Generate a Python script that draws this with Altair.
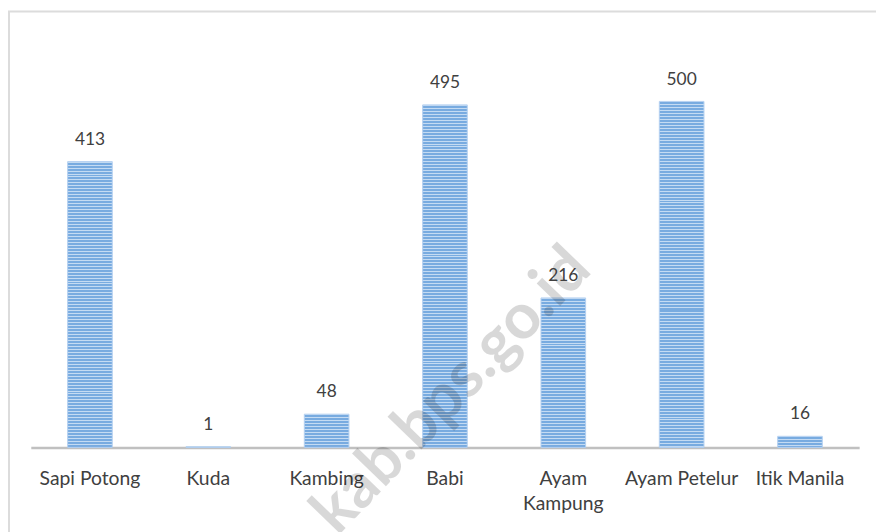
import altair as alt
import pandas as pd

categories = ["Sapi Potong", "Kuda", "Kambing", "Babi", "Ayam Kampung", "Ayam Petelur", "Itik Manila"]
values = [413, 1, 48, 495, 216, 500, 16]
watermark = "kab.bps.go.id"

df = pd.DataFrame({"animal": categories, "value": values})

W, H = 836, 419
YMAX = 600
FONT = "Lato"
TXT = "#404040"
DARK, LIGHT = "#78abe0", "#c4dbf3"
PERIOD, LIGHT_PX = 3.0, 1.0


def stripes(v):
    h = max(v * H / YMAX, 0.5)
    stops = []
    y = 0.0
    while y < h:
        a = y / h
        m = min((y + LIGHT_PX) / h, 1.0)
        b = min((y + PERIOD) / h, 1.0)
        stops += [
            {"offset": a, "color": LIGHT},
            {"offset": m, "color": LIGHT},
            {"offset": m, "color": DARK},
            {"offset": b, "color": DARK},
        ]
        y += PERIOD
    return {"gradient": "linear", "x1": 0, "y1": 0, "x2": 0, "y2": 1, "stops": stops}


fill = alt.when(alt.datum.animal == categories[0]).then(alt.value(stripes(values[0])))
for c, v in zip(categories[1:-1], values[1:-1]):
    fill = fill.when(alt.datum.animal == c).then(alt.value(stripes(v)))
fill = fill.otherwise(alt.value(stripes(values[-1])))

x_enc = alt.X(
    "animal:N",
    sort=categories,
    scale=alt.Scale(paddingInner=0, paddingOuter=0),
    axis=alt.Axis(
        title=None,
        labelAngle=0,
        ticks=False,
        grid=False,
        domainColor="#c0c0c0",
        domainWidth=2.5,
        labelFont=FONT,
        labelFontSize=19.5,
        labelColor=TXT,
        labelPadding=22,
        labelLineHeight=26,
        labelExpr="datum.value == 'Ayam Kampung' ? ['Ayam', 'Kampung'] : datum.label",
    ),
)
y_enc = alt.Y("value:Q", scale=alt.Scale(domain=[0, YMAX], nice=False), axis=None)

frame = alt.Chart(alt.Data(values=[{"k": 1}])).mark_rect(
    fill=None, stroke="#dcdcdc", strokeWidth=2
).encode(x=alt.value(-22), x2=alt.value(W + 40), y=alt.value(-21), y2=alt.value(H + 200))

bars = alt.Chart(df).mark_bar(
    width=alt.RelativeBandSize(0.377), stroke="#b3cff0", strokeWidth=1
).encode(x=x_enc, y=y_enc, fill=fill)

wm = alt.Chart(alt.Data(values=[{"t": watermark}])).mark_text(
    font=FONT, fontSize=64, fontWeight="bold", color="#000000", opacity=0.15, angle=314,
    align="center", baseline="middle",
).encode(text="t:N", x=alt.value(425), y=alt.value(362))

labels = alt.Chart(df).mark_text(
    font=FONT, fontSize=17.5, color=TXT, baseline="alphabetic", dy=-17
).encode(x=alt.X("animal:N", sort=categories), y="value:Q", text="value:Q")

chart = (
    alt.layer(frame, bars, wm, labels)
    .properties(
        width=W,
        height=H,
        background="white",
        padding={"left": 23, "top": 22, "right": 17, "bottom": 90},
        autosize=alt.AutoSizeParams(type="none"),
    )
    .configure_view(strokeWidth=0, stroke="transparent")
)

chart.save("out.html", embed_options={"renderer": "svg", "actions": False})
